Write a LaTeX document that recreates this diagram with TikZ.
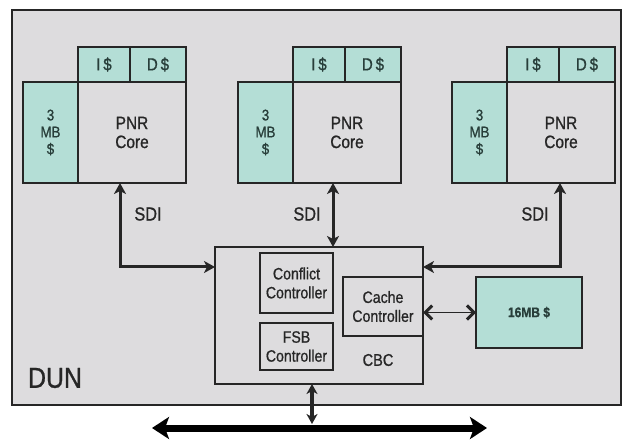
\documentclass[tikz,border=0pt]{standalone}
\usepackage{fontspec}
\setmainfont{Liberation Sans}[FakeStretch=0.86,FakeBold=0.9]
\usetikzlibrary{arrows.meta}
\definecolor{dungray}{RGB}{221,220,222}
\definecolor{tealfill}{RGB}{180,222,214}
\definecolor{linec}{RGB}{38,38,38}
\definecolor{tealtext}{RGB}{40,62,58}
\newcommand\fs[2]{\fontsize{#1}{#2}\selectfont}
\newcommand\mkcore[2]{%
  \node[tealbox, minimum width=55bp, minimum height=101bp, font=\fs{15.5}{17}] (#1mem) at (#2,82) {3\\MB\\\$};
  \node[graybox, minimum width=108bp, minimum height=101bp, font=\fs{18}{19}] (#1core) at ({#2+55},82) {PNR\\Core};
  \node[tealbox, minimum width=52bp, minimum height=35bp, font=\fs{17.5}{19}] (#1icache) at ({#2+55},47) {I\,\$};
  \node[tealbox, minimum width=56bp, minimum height=35bp, font=\fs{17.5}{19}] (#1dcache) at ({#2+107},47) {D\,\$};
}
\begin{document}
\begin{tikzpicture}[x=1bp,y=-1bp,
  basebox/.style={draw=linec, line width=1.2bp, inner sep=0pt, outer sep=0pt, anchor=north west, align=center},
  tealbox/.style={basebox, fill=tealfill, text=tealtext},
  graybox/.style={basebox, fill=dungray, text=linec},
  lbl/.style={text=linec, inner sep=0pt},
  midarrow/.style={draw=linec, line width=3bp, {Stealth[length=11bp,width=12bp,inset=3bp]}-{Stealth[length=11bp,width=12bp,inset=3bp]}},
  busdrop/.style={draw=linec, line width=3.2bp, {Stealth[length=10bp,width=11bp,inset=3bp]}-{Stealth[length=10bp,width=11bp,inset=3bp]}},
  thinarrow/.style={draw=linec, line width=1.8bp, {Straight Barb[length=7bp,width=14bp,line width=3bp]}-{Straight Barb[length=7bp,width=14bp,line width=3bp]}},
  busarrow/.style={draw=black, line width=7bp, {Stealth[length=17bp,width=22bp,inset=4bp]}-{Stealth[length=17bp,width=22bp,inset=4bp]}},
]
\useasboundingbox (0,0) rectangle (624,442);
\fill[white] (0,0) rectangle (624,442);
% DUN outer box
\node[graybox, line width=1.6bp, minimum width=609bp, minimum height=395bp] (dun) at (12,10) {};
\node[lbl, font=\fs{29}{31}] (dunlbl) at (55,378) {DUN};
% cores
\mkcore{pa}{23}
\mkcore{pb}{238}
\mkcore{pc}{452}
% CBC
\node[graybox, minimum width=208bp, minimum height=137bp] (cbcbox) at (215,247) {};
\node[graybox, minimum width=73bp, minimum height=60bp, font=\fs{16.5}{19}] (conf) at (260,253) {Conflict\\Controller};
\node[graybox, minimum width=73bp, minimum height=47bp, font=\fs{16.5}{19}] (fsb) at (260,323) {FSB\\Controller};
\node[graybox, minimum width=80bp, minimum height=59bp, font=\fs{16.5}{19}] (cachectl) at (343,277) {Cache\\Controller};
\node[lbl, font=\fs{17}{19}] (cbclbl) at (378,360) {CBC};
% 16MB
\node[tealbox, line width=1.5bp, minimum width=106bp, minimum height=71bp, font=\fs{14}{16}\bfseries] (bigmem) at (476,277) {16MB \$};
% SDI labels
\node[lbl, font=\fs{19}{20}] (sdia) at (148,214) {SDI};
\node[lbl, font=\fs{19}{20}] (sdib) at (307,214) {SDI};
\node[lbl, font=\fs{19}{20}] (sdic) at (535,214) {SDI};
% connectors
\coordinate (ka) at (120,267);
\coordinate (kb) at (333,215);
\coordinate (kc) at (560,267);
\coordinate (km) at (312,428);
\coordinate (kmtop) at (312,424);
\coordinate (busl) at (152,428);
\coordinate (busr) at (487,428);
\draw[midarrow] (pacore.south -| ka) -- (ka) -- (cbcbox.west |- ka);
\draw[midarrow] (pbcore.south -| kb) -- (cbcbox.north -| kb);
\draw[midarrow] (pccore.south -| kc) -- (kc) -- (cbcbox.east |- kc);
\draw[thinarrow] (bigmem.west -| cachectl.east) -- (bigmem.west);
\draw[busarrow] (busl) -- (busr);
\draw[busdrop] (cbcbox.south -| km) -- (kmtop);
\end{tikzpicture}
\end{document}
